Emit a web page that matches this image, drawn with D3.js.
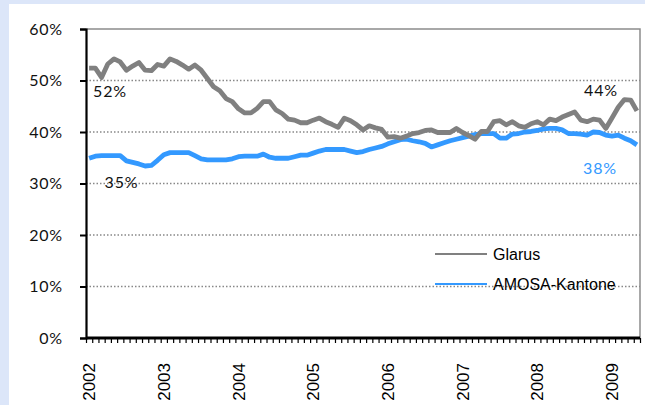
<!DOCTYPE html>
<html>
<head>
<meta charset="utf-8">
<script src="https://cdn.jsdelivr.net/npm/d3@7"></script>
<style>
  body { margin: 0; background: #dce6f9; }
  svg { display: block; }
</style>
</head>
<body>
<div id="chart"></div>
<script>
// year labels (first month of each year)
var years = ["2002", "2003", "2004", "2005", "2006", "2007", "2008", "2009"];

// monthly shares, Jan 2002 - May 2009 (in %)
var glarus = [
  52.4, 52.4, 50.6, 53.2, 54.2, 53.6, 52.0, 52.8, 53.5, 52.0,
  51.9, 53.1, 52.8, 54.2, 53.7, 53.0, 52.2, 53.0, 52.0, 50.4,
  48.8, 48.0, 46.5, 45.9, 44.5, 43.7, 43.7, 44.6, 45.9, 45.9,
  44.3, 43.6, 42.5, 42.3, 41.8, 41.8, 42.3, 42.7, 42.0, 41.5,
  40.9, 42.7, 42.2, 41.4, 40.4, 41.2, 40.8, 40.5, 39.0, 39.1,
  38.8, 39.2, 39.7, 39.9, 40.3, 40.4, 39.9, 39.9, 39.9, 40.7,
  39.9, 39.3, 38.6, 40.1, 40.1, 42.0, 42.2, 41.4, 42.0, 41.2,
  40.9, 41.6, 42.0, 41.4, 42.5, 42.2, 42.9, 43.4, 43.9, 42.3,
  42.0, 42.5, 42.3, 40.7, 42.7, 44.8, 46.3, 46.2, 44.1
];
var amosa = [
  34.9, 35.3, 35.4, 35.4, 35.4, 35.4, 34.4, 34.1, 33.8, 33.4,
  33.5, 34.5, 35.6, 36.0, 36.0, 36.0, 36.0, 35.4, 34.8, 34.6,
  34.6, 34.6, 34.6, 34.8, 35.2, 35.3, 35.3, 35.3, 35.7, 35.1,
  34.9, 34.9, 34.9, 35.2, 35.5, 35.5, 35.9, 36.3, 36.6, 36.6,
  36.6, 36.6, 36.3, 36.0, 36.2, 36.6, 36.9, 37.2, 37.7, 38.1,
  38.5, 38.6, 38.3, 38.1, 37.8, 37.1, 37.5, 37.9, 38.3, 38.6,
  38.9, 39.2, 39.5, 39.7, 39.7, 39.7, 38.8, 38.8, 39.6, 39.7,
  40.0, 40.1, 40.3, 40.6, 40.7, 40.7, 40.4, 39.7, 39.7, 39.6,
  39.4, 40.0, 39.9, 39.4, 39.2, 39.4, 38.8, 38.3, 37.5
];
var yTicks = [0, 10, 20, 30, 40, 50, 60];

var series = [
  {name: "Glarus", values: glarus, colour: "#808080"},
  {name: "AMOSA-Kantone", values: amosa, colour: "#3399ff"}
];

var W = 645, H = 405;
var plot = {left: 86, right: 640, top: 29, bottom: 338};

var svg = d3.select("#chart")
    .append("svg")
    .attr("width", W)
    .attr("height", H);

// white panel on light blue background
svg.append("rect")
    .attr("x", 9).attr("y", 4)
    .attr("width", W - 9).attr("height", H - 4)
    .attr("fill", "#fff");

var n = glarus.length;
var x = d3.scaleLinear().domain([0, n]).range([plot.left, plot.right]);
var y = d3.scaleLinear().domain([0, 60]).range([plot.bottom, plot.top]);
function xc(i) { return x(i + 0.5); }

// gridlines
svg.append("g")
    .selectAll("line")
    .data(yTicks.filter(function(d) { return d > 0 && d < 60; }))
    .enter()
    .append("line")
    .attr("x1", plot.left).attr("x2", plot.right)
    .attr("y1", function(d) { return y(d); })
    .attr("y2", function(d) { return y(d); })
    .attr("stroke", "#888")
    .attr("stroke-width", 1.3)
    .attr("stroke-dasharray", "1.5,2");

// top and right border
svg.append("path")
    .attr("d", "M" + plot.left + "," + y(60) + "H" + plot.right + "V" + plot.bottom)
    .attr("fill", "none")
    .attr("stroke", "#8c8c8c")
    .attr("stroke-width", 1.5);

// y axis
var yAxis = svg.append("g")
    .attr("transform", "translate(" + plot.left + ",0)")
    .call(d3.axisLeft(y).tickValues(yTicks).tickSize(6).tickPadding(17)
        .tickFormat(function(d) { return d + "%"; }));
yAxis.select(".domain").attr("stroke", "#000").attr("stroke-width", 2.2);
yAxis.selectAll(".tick line").attr("stroke", "#000").attr("stroke-width", 2);
yAxis.selectAll("text")
    .attr("fill", "#111")
    .style("font-family", "Lato, sans-serif")
    .style("font-size", "16px")
    .style("letter-spacing", "0.8px");

// x axis: one tick per month
var xAxis = svg.append("g")
    .attr("transform", "translate(0," + plot.bottom + ")")
    .call(d3.axisBottom(x).tickValues(d3.range(n + 1)).tickSize(5).tickFormat(""));
xAxis.select(".domain").attr("stroke", "#000").attr("stroke-width", 3.2)
    .attr("d", "M" + plot.left + ",0H" + plot.right);
xAxis.selectAll(".tick line").attr("stroke", "#000").attr("stroke-width", 1.2);

// year labels, rotated
svg.append("g")
    .selectAll("text")
    .data(years)
    .enter()
    .append("text")
    .attr("transform", function(d, i) {
        return "translate(" + xc(i * 12) + ",363) rotate(-90)";
    })
    .attr("text-anchor", "end")
    .attr("dy", "0.36em")
    .attr("fill", "#000")
    .style("font-family", "'Liberation Sans', Arial, sans-serif")
    .style("font-size", "17px")
    .text(function(d) { return d; });

// lines
var line = d3.line()
    .x(function(d, i) { return xc(i); })
    .y(function(d) { return y(d); });

svg.append("g")
    .selectAll("path")
    .data(series.slice().reverse())
    .enter()
    .append("path")
    .attr("d", function(d) { return line(d.values); })
    .attr("fill", "none")
    .attr("stroke", function(d) { return d.colour; })
    .attr("stroke-width", 4.8)
    .attr("stroke-linejoin", "round");

// value labels at the start and end
var labels = [
  {text: "52%", i: 0, v: glarus[0], dx: 4, dy: 29, colour: "#111", anchor: "start"},
  {text: "35%", i: 2, v: amosa[2], dx: 3, dy: 32, colour: "#111", anchor: "start"},
  {text: "44%", i: n - 1, v: glarus[n - 1], dx: -19, dy: -15, colour: "#111", anchor: "end"},
  {text: "38%", i: n - 1, v: amosa[n - 1], dx: -20, dy: 29, colour: "#3399ff", anchor: "end"}
];
svg.append("g")
    .selectAll("text")
    .data(labels)
    .enter()
    .append("text")
    .attr("x", function(d) { return xc(d.i) + d.dx; })
    .attr("y", function(d) { return y(d.v) + d.dy; })
    .attr("text-anchor", function(d) { return d.anchor; })
    .attr("fill", function(d) { return d.colour; })
    .style("font-family", "Lato, sans-serif")
    .style("font-size", "16px")
    .style("letter-spacing", "0.8px")
    .text(function(d) { return d.text; });

// legend
var legend = svg.append("g")
    .attr("transform", "translate(435,254)");
var item = legend.selectAll("g")
    .data(series)
    .enter()
    .append("g")
    .attr("transform", function(d, i) { return "translate(0," + (i * 30) + ")"; });
item.append("line")
    .attr("x1", 0).attr("x2", 52)
    .attr("stroke", function(d) { return d.colour; })
    .attr("stroke-width", 2);
item.append("text")
    .attr("x", 58)
    .attr("dy", "0.36em")
    .attr("fill", "#000")
    .style("font-family", "'Liberation Sans', Arial, sans-serif")
    .style("font-size", "16px")
    .text(function(d) { return d.name; });
</script>
</body>
</html>
